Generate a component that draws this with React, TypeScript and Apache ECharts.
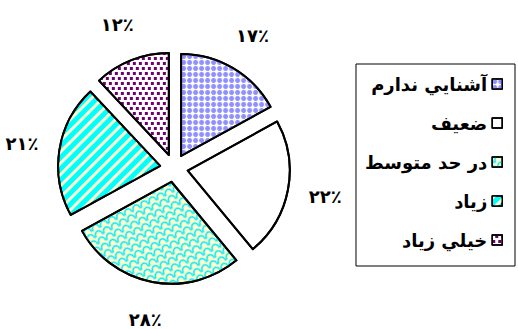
import React, { useEffect, useRef } from "react";
import * as echarts from "echarts";

const categories = ["آشنايي ندارم", "ضعيف", "در حد متوسط", "زياد", "خيلي زياد"];
const values = [17, 22, 28, 21, 12];

const baseColors = ["#ffffff", "#ffffff", "#ffffcc", "#00ffff", "#ffffff"];
const decals: any[] = [
  { symbol: "circle", symbolSize: 1, color: "#8f8fff", dashArrayX: [5, 1], dashArrayY: [5, 1] },
  { symbol: "none", color: "rgba(0,0,0,0)", dashArrayX: [1, 0], dashArrayY: [1, 0] },
  {
    symbol: "path://M0,10 C0,1 10,1 10,10 L8.4,10 C8.4,3.4 1.6,3.4 1.6,10 Z",
    symbolSize: 1,
    color: "#00e5ff",
    dashArrayX: [9, 0],
    dashArrayY: [7, 0],
    rotation: -0.45,
  },
  { symbol: "rect", symbolSize: 1, color: "#ffffcc", dashArrayX: [1, 0], dashArrayY: [3, 5], rotation: -Math.PI / 4 },
  {
    symbol: "rect",
    symbolSize: 1,
    color: "#6e006e",
    dashArrayX: [[2.6, 2.4], [0, 2.5, 2.6, 0]],
    dashArrayY: [2.6, 2],
  },
];

const toPersian = (n: number) =>
  String(n).replace(/[0-9]/g, (d) => "۰۱۲۳۴۵۶۷۸۹"[Number(d)]) + "٪";

export default function App() {
  const ref = useRef<HTMLDivElement>(null);
  useEffect(() => {
    if (!ref.current) return;
    const chart = echarts.init(ref.current, null, { renderer: "svg" });
    const center = [174, 168];
    chart.setOption({
      animation: false,
      backgroundColor: "#ffffff",
      legend: {
        orient: "vertical",
        right: 3,
        top: 64,
        align: "right",
        icon: "rect",
        itemWidth: 10,
        itemHeight: 10,
        itemGap: 21,
        padding: [11, 12, 17, 9],
        borderColor: "#000",
        borderWidth: 1,
        data: categories,
        itemStyle: { borderColor: "#000", borderWidth: 1.5 },
        textStyle: { fontFamily: "DejaVu Sans", fontWeight: "bold", fontSize: 18, color: "#000" },
      },
      series: [
        {
          type: "pie",
          center,
          radius: 102,
          startAngle: 90,
          clockwise: true,
          selectedMode: "multiple",
          selectedOffset: 14,
          label: { show: false },
          labelLine: { show: false },
          emphasis: { disabled: true },
          itemStyle: { borderColor: "#000", borderWidth: 2 },
          data: categories.map((name, i) => ({
            name,
            value: values[i],
            selected: true,
            itemStyle: { color: baseColors[i], decal: decals[i] },
          })),
        },
        {
          type: "pie",
          center,
          radius: [139, 163],
          startAngle: 90,
          clockwise: true,
          silent: true,
          legendHoverLink: false,
          itemStyle: { color: "rgba(0,0,0,0)", borderWidth: 0 },
          emphasis: { disabled: true },
          labelLine: { show: false },
          label: {
            show: true,
            position: "inside",
            rotate: 0,
            formatter: (p: any) => toPersian(p.value),
            fontFamily: "DejaVu Sans",
            fontWeight: "bold",
            fontSize: 18,
            color: "#000",
          },
          data: categories.map((name, i) => ({ name, value: values[i] })),
        },
      ],
    });
    return () => chart.dispose();
  }, []);
  return (
    <div
      ref={ref}
      style={{ position: "fixed", left: 0, top: 0, width: 518, height: 329, background: "#fff" }}
    />
  );
}
